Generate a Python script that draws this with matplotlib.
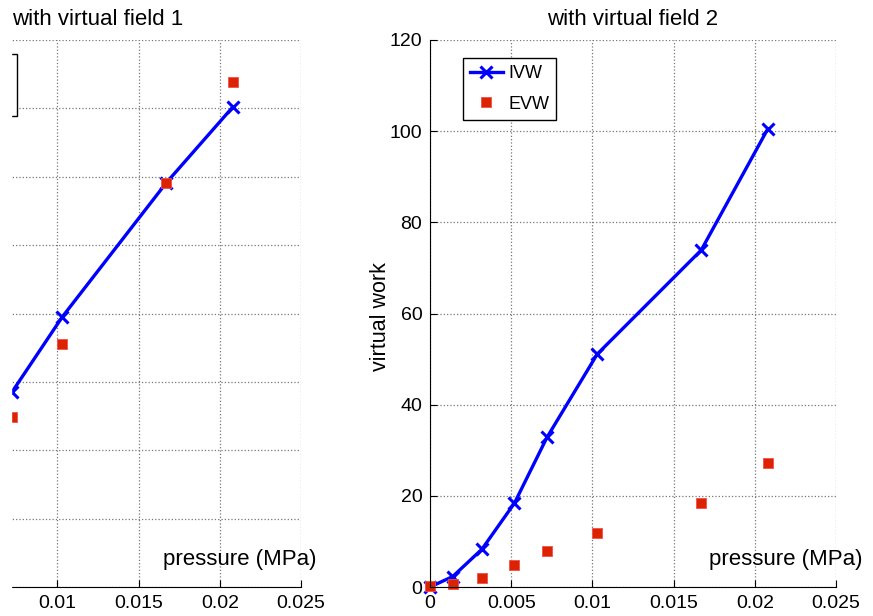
import matplotlib.pyplot as plt
from matplotlib.patches import Rectangle

plt.rcParams['font.family'] = ['Liberation Sans', 'DejaVu Sans']

# pressure values (MPa)
pressure = [0, 0.0014, 0.0032, 0.0052, 0.0072, 0.0103, 0.0167, 0.0208]

# virtual field 1 (only the visible part of the panel)
p1 = [0.0072, 0.0103, 0.0167, 0.0208]
ivw1 = [2.85, 3.95, 5.91, 7.02]
evw1 = [2.49, 3.55, 5.91, 7.39]

# virtual field 2
ivw2 = [0, 2.3, 8.3, 18.4, 32.8, 51.1, 73.9, 100.5]
evw2 = [0.2, 0.7, 2.0, 4.9, 7.9, 11.9, 18.5, 27.1]

xticks = [0, 0.005, 0.01, 0.015, 0.02, 0.025]
xticklabels = ['0', '0.005', '0.01', '0.015', '0.02', '0.025']

blue = '#0000ff'
red = '#dd2200'

fig = plt.figure(figsize=(8.73, 6.16), dpi=100)
W, H = 873, 616

def setup(ax, labels):
    ax.set_xlim(0, 0.025)
    ax.set_xticks(xticks)
    ax.set_xticklabels(labels)
    ax.grid(True, linestyle=':', color='#777777', linewidth=0.9)
    ax.spines['top'].set_visible(False)
    ax.spines['right'].set_visible(False)
    ax.tick_params(direction='in', labelsize=14, length=5, width=0.8, pad=5.5)
    ax.set_axisbelow(True)

def add_legend(ax, left, top):
    ax.legend(loc='upper left', bbox_to_anchor=(left, top), borderaxespad=0,
              fontsize=13, fancybox=False, edgecolor='black', framealpha=1,
              handlelength=1.8, handletextpad=0.3, borderpad=0.4,
              labelspacing=0.75)

# left panel sits mostly outside the image
ax1 = fig.add_axes([-105 / W, 29 / H, 406 / W, 547 / H])
setup(ax1, ['', ''] + xticklabels[2:])
ax1.set_ylim(0, 8)
ax1.set_yticks(range(9))
ax1.tick_params(labelleft=False)
ax1.plot(p1, ivw1, '-x', color=blue, lw=2.4, ms=9, mew=2.2, label='IVW')
ax1.plot(p1, evw1, 's', color=red, ms=6.5, mec='#f05050', mew=0.6, label='EVW', ls='none')
ax1.set_title('with virtual field 1', fontsize=16, pad=11)
ax1.text(1.039, 0.05, 'pressure (MPa)', transform=ax1.transAxes,
         ha='right', va='center', fontsize=16)
add_legend(ax1, 0.071, 0.975)

ax2 = fig.add_axes([430 / W, 29 / H, 406 / W, 547 / H])
setup(ax2, xticklabels)
ax2.set_ylim(0, 120)
ax2.set_yticks(range(0, 121, 20))
ax2.plot(pressure, ivw2, '-x', color=blue, lw=2.4, ms=9, mew=2.2, label='IVW', clip_on=False)
ax2.plot(pressure, evw2, 's', color=red, ms=6.5, mec='#f05050', mew=0.6, label='EVW',
         ls='none', clip_on=False)
ax2.set_title('with virtual field 2', fontsize=16, pad=11)
ax2.text(1.066, 0.05, 'pressure (MPa)', transform=ax2.transAxes,
         ha='right', va='center', fontsize=16)
ax2.text(-0.121, 0.495, 'virtual work', transform=ax2.transAxes,
         ha='center', va='center', rotation=90, fontsize=15.5)
add_legend(ax2, 0.081, 0.967)

# blank strip at the left edge, as in the cropped original
fig.patches.append(Rectangle((0, 0), 11 / W, 1, transform=fig.transFigure,
                             color='white', zorder=10))

fig.savefig('out.png', dpi=100)
